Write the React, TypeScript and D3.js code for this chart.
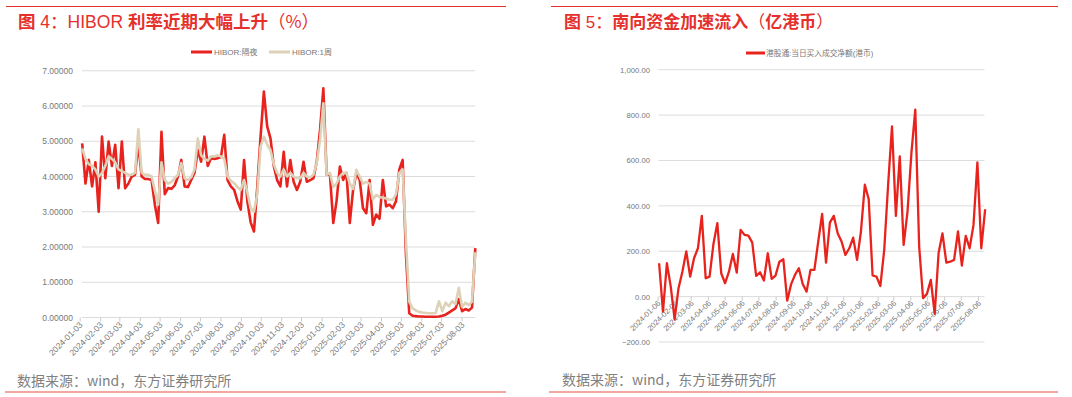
import React from "react";
import * as d3 from "d3";

// ---------- Data: HIBOR (left) ----------
const hiborStart = "2024-01-06";
const hiborStepDays = 5;
const hiborOvernight = [
  4.94, 3.8, 4.47, 3.72, 4.4, 3.0, 5.13, 3.95, 4.99, 4.3,
  4.9, 3.67, 4.99, 3.67, 3.8, 4.0, 4.05, 4.94, 4.0, 3.93,
  3.93, 3.9, 3.2, 2.68, 5.27, 3.5, 3.67, 3.65, 3.75, 4.0,
  4.47, 3.72, 3.7, 3.9, 4.1, 4.75, 4.42, 5.13, 4.3, 4.52,
  4.5, 4.52, 4.55, 5.18, 3.9, 3.72, 3.62, 3.3, 3.06, 4.47,
  3.3, 2.7, 2.44, 3.7, 5.13, 6.41, 5.42, 5.08, 4.3, 3.9,
  3.72, 4.7, 3.72, 4.47, 3.85, 3.62, 3.85, 4.42, 3.85, 3.9,
  3.95, 4.42, 5.32, 6.5, 4.05, 4.05, 2.68, 3.3, 4.28, 3.9,
  4.1, 2.68, 3.62, 4.1, 3.9, 3.1, 2.96, 3.9, 2.63, 2.92,
  2.8, 3.9, 3.15, 3.2, 3.1, 3.3, 4.2, 4.47, 1.8, 0.12,
  0.05, 0.04, 0.03, 0.03, 0.02, 0.02, 0.02, 0.02, 0.03, 0.05,
  0.08, 0.14, 0.2, 0.26, 0.52, 0.18, 0.24, 0.2, 0.28, 1.97,
];
const hiborOneWeek = [
  4.8, 4.5, 4.35, 4.3, 4.2, 4.0, 4.1, 4.3, 4.57, 4.5,
  4.4, 4.2, 4.15, 4.1, 4.05, 4.05, 4.1, 5.34, 4.1, 4.05,
  4.05, 4.0, 3.6, 3.2, 4.4, 3.9, 3.8, 3.85, 3.95, 4.05,
  4.38, 3.95, 3.9, 3.98, 4.2, 5.08, 4.6, 4.5, 4.45, 4.57,
  4.57, 4.6, 4.57, 4.5, 4.0, 3.88, 3.81, 3.7, 3.62, 3.9,
  3.55, 3.1, 3.0, 3.5, 4.85, 5.13, 4.9, 4.75, 4.35, 4.1,
  4.0, 4.2, 4.0, 4.1, 4.0, 3.95, 3.95, 4.1, 4.0, 3.98,
  4.05, 4.38, 5.04, 6.08, 4.05, 4.1, 3.7, 3.8, 4.0, 4.1,
  4.1, 3.8, 3.65, 4.19, 4.0, 3.8, 3.85, 3.8, 3.35, 3.48,
  3.42, 3.4, 3.38, 3.34, 3.34, 3.5, 4.1, 4.2, 2.2, 0.45,
  0.26, 0.2, 0.16, 0.14, 0.13, 0.12, 0.12, 0.13, 0.46, 0.18,
  0.42, 0.32, 0.46, 0.38, 0.84, 0.3, 0.42, 0.35, 0.45, 1.85,
];
const hiborTickLabels = [
  "2024-01-03", "2024-02-03", "2024-03-03", "2024-04-03", "2024-05-03",
  "2024-06-03", "2024-07-03", "2024-08-03", "2024-09-03", "2024-10-03",
  "2024-11-03", "2024-12-03", "2025-01-03", "2025-02-03", "2025-03-03",
  "2025-04-03", "2025-05-03", "2025-06-03", "2025-07-03", "2025-08-03",
];
const hiborYTicks = [0, 1, 2, 3, 4, 5, 6, 7];
const hiborSeriesNames = ["HIBOR:隔夜", "HIBOR:1周"];

// ---------- Data: Southbound flow (right) ----------
const flowStart = "2024-01-08";
const flowStepDays = 7;
const southboundNetBuy = [
  147, -66, 147, 44, -100, 37, 110, 199, 88, 169,
  213, 356, 81, 88, 232, 324, 103, 59, 110, 188,
  106, 294, 272, 269, 238, 91, 107, 71, 191, 78,
  93, 154, 165, -18, 54, 96, 125, 56, 22, 118,
  118, 243, 365, 150, 326, 356, 279, 243, 184, 213,
  260, 162, 287, 493, 429, 93, 88, 47, 206, 493,
  750, 356, 618, 228, 375, 632, 824, 221, -7, 12,
  74, -76, 191, 279, 150, 154, 162, 287, 137, 268,
  213, 316, 591, 213, 385,
];
const flowTickLabels = [
  "2024-01-06", "2024-02-06", "2024-03-06", "2024-04-06", "2024-05-06",
  "2024-06-06", "2024-07-06", "2024-08-06", "2024-09-06", "2024-10-06",
  "2024-11-06", "2024-12-06", "2025-01-06", "2025-02-06", "2025-03-06",
  "2025-04-06", "2025-05-06", "2025-06-06", "2025-07-06", "2025-08-06",
];
const flowYTicks = [-200, 0, 200, 400, 600, 800, 1000];
const flowSeriesName = "港股通:当日买入成交净额(港币)";

// ---------- Styles ----------
const RED = "#e8231d";
const BEIGE = "#ddd1b8";
const TITLE_RED = "#e5302b";
const GRID = "#dcdcdc";
const AXIS_TEXT = "#777777";
const SRC_TEXT = "#808080";
const FONT = "'Liberation Sans', Arial, 'Noto Sans CJK SC', sans-serif";
const CJK = "'Noto Sans CJK SC', 'Liberation Sans', sans-serif";

const parse = d3.utcParse("%Y-%m-%d");

function seriesFrom(start: string, step: number, values: number[]) {
  const s = parse(start) as Date;
  return values.map((v, i) => ({ date: d3.utcDay.offset(s, step * i), v }));
}

function HiborChart() {
  const x = d3
    .scaleUtc()
    .domain([parse("2024-01-03") as Date, parse("2025-08-03") as Date])
    .range([80.2, 462.1]);
  const y = d3.scaleLinear().domain([0, 7]).range([317.5, 70.75]);
  const gridX0 = 82;
  const gridX1 = 475;
  const on = seriesFrom(hiborStart, hiborStepDays, hiborOvernight);
  const wk = seriesFrom(hiborStart, hiborStepDays, hiborOneWeek);
  const line = d3
    .line<{ date: Date; v: number }>()
    .x((d) => x(d.date))
    .y((d) => y(d.v));
  const fmt = d3.format(".5f");
  return (
    <g>
      <line x1={6} x2={506} y1={6.5} y2={6.5} stroke={TITLE_RED} strokeWidth={1} />
      <text x={18} y={28} fontSize={17.5} fill={TITLE_RED} fontFamily={CJK}>
        <tspan fontWeight={700}>图</tspan>
        <tspan fontFamily={FONT}> 4：HIBOR </tspan>
        <tspan fontWeight={700}>利率近期大幅上升</tspan>
        <tspan>（%）</tspan>
      </text>
      {/* legend */}
      <line x1={191} x2={212} y1={52} y2={52} stroke={RED} strokeWidth={3} />
      <text x={214} y={55} fontSize={8} fill={AXIS_TEXT} fontFamily={FONT}>{hiborSeriesNames[0]}</text>
      <line x1={269} x2={290} y1={52} y2={52} stroke={BEIGE} strokeWidth={3} />
      <text x={292} y={55} fontSize={8} fill={AXIS_TEXT} fontFamily={FONT}>{hiborSeriesNames[1]}</text>
      {/* grid + y labels */}
      {hiborYTicks.map((t) => (
        <g key={t}>
          <line x1={gridX0} x2={gridX1} y1={y(t)} y2={y(t)} stroke={GRID} strokeWidth={1} />
          <text x={73} y={y(t) + 3} fontSize={8.5} fill={AXIS_TEXT} textAnchor="end" fontFamily={FONT}>
            {fmt(t)}
          </text>
        </g>
      ))}
      {/* x ticks */}
      {hiborTickLabels.map((s) => {
        const tx = x(parse(s) as Date);
        return (
          <g key={s}>
            <line x1={tx} x2={tx} y1={y(0)} y2={y(0) + 4} stroke="#cccccc" />
            <text
              transform={`translate(${tx + 3},${y(0) + 8}) rotate(-45)`}
              fontSize={8.5}
              fill={AXIS_TEXT}
              textAnchor="end"
              fontFamily={FONT}
            >
              {s}
            </text>
          </g>
        );
      })}
      <path d={line(on) || ""} fill="none" stroke={RED} strokeWidth={2.6} strokeLinejoin="round" />
      <path d={line(wk) || ""} fill="none" stroke={BEIGE} strokeWidth={2.6} strokeLinejoin="round" />
      <text x={17} y={386} fontSize={14} fill={SRC_TEXT} fontFamily={CJK}>数据来源：wind，东方证券研究所</text>
      <line x1={5} x2={506} y1={392} y2={392} stroke="#ef8a84" strokeWidth={1.6} />
    </g>
  );
}

function FlowChart() {
  const x = d3
    .scaleUtc()
    .domain([parse("2024-01-06") as Date, parse("2025-08-06") as Date])
    .range([658, 978.5]);
  const y = d3.scaleLinear().domain([-200, 1000]).range([342, 69.7]);
  const gridX0 = 658.5;
  const gridX1 = 984.5;
  const data = seriesFrom(flowStart, flowStepDays, southboundNetBuy);
  const line = d3
    .line<{ date: Date; v: number }>()
    .x((d) => x(d.date))
    .y((d) => y(d.v));
  const fmt = d3.format(",.2f");
  return (
    <g>
      <line x1={551} x2={1058} y1={6.5} y2={6.5} stroke={TITLE_RED} strokeWidth={1} />
      <text x={564} y={28} fontSize={17} fill={TITLE_RED} fontFamily={CJK}>
        <tspan fontWeight={700}>图</tspan>
        <tspan fontFamily={FONT}> 5：</tspan>
        <tspan fontWeight={700}>南向资金加速流入</tspan>
        <tspan>（</tspan>
        <tspan fontWeight={700}>亿港币</tspan>
        <tspan>）</tspan>
      </text>
      <line x1={746} x2={765} y1={53} y2={53} stroke={RED} strokeWidth={3} />
      <text x={766} y={55.8} fontSize={7.7} fill={AXIS_TEXT} fontFamily={FONT}>{flowSeriesName}</text>
      {flowYTicks.map((t) => (
        <g key={t}>
          <line x1={gridX0} x2={gridX1} y1={y(t)} y2={y(t)} stroke={GRID} strokeWidth={1} />
          <text x={650} y={y(t) + 3} fontSize={7.7} fill={AXIS_TEXT} textAnchor="end" fontFamily={FONT}>
            {fmt(t)}
          </text>
        </g>
      ))}
      {flowTickLabels.map((s) => {
        const tx = x(parse(s) as Date);
        return (
          <g key={s}>
            <line x1={tx} x2={tx} y1={y(0)} y2={y(0) + 4} stroke="#cccccc" />
            <text
              transform={`translate(${tx + 3},${y(0) + 7}) rotate(-45)`}
              fontSize={7.7}
              fill={AXIS_TEXT}
              textAnchor="end"
              fontFamily={FONT}
            >
              {s}
            </text>
          </g>
        );
      })}
      <path d={line(data) || ""} fill="none" stroke={RED} strokeWidth={2.3} strokeLinejoin="round" />
      <text x={562} y={385} fontSize={14} fill={SRC_TEXT} fontFamily={CJK}>数据来源：wind，东方证券研究所</text>
      <line x1={549} x2={1058} y1={392} y2={392} stroke="#ef8a84" strokeWidth={1.6} />
    </g>
  );
}

export default function App() {
  return (
    <svg
      width={1072}
      height={397}
      style={{ position: "absolute", left: 0, top: 0, background: "#ffffff" }}
    >
      <rect width={1072} height={397} fill="#ffffff" />
      <HiborChart />
      <FlowChart />
    </svg>
  );
}
